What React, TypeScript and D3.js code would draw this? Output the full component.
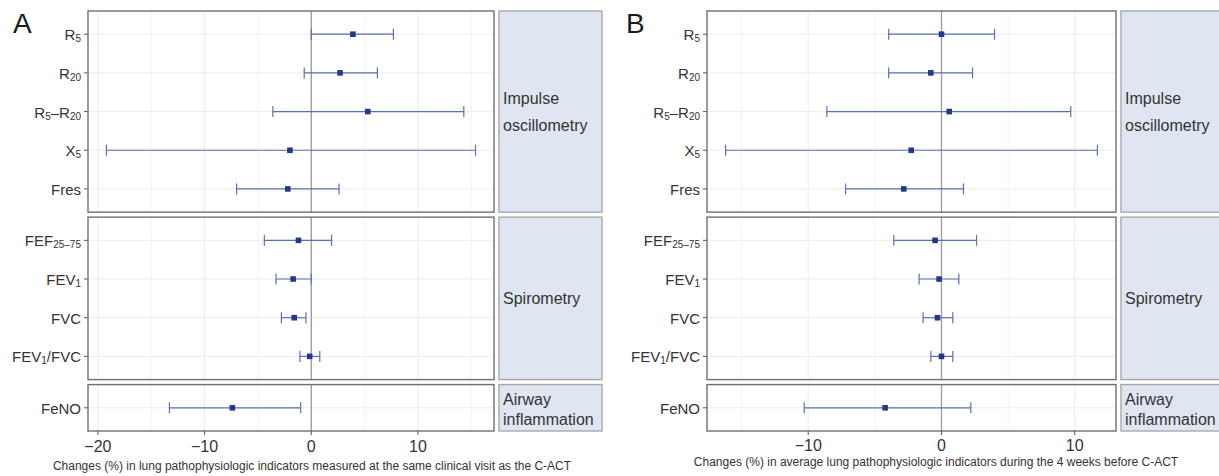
import React from "react";
import * as d3 from "d3";

// ---------- data ----------
const indicators = ["R5", "R20", "R5–R20", "X5", "Fres", "FEF25–75", "FEV1", "FVC", "FEV1/FVC", "FeNO"];
const groupNames = ["Impulse oscillometry", "Spirometry", "Airway inflammation"];
const groupOf = [0, 0, 0, 0, 0, 1, 1, 1, 1, 2];
const stripLines = [["Impulse", "oscillometry"], ["Spirometry"], ["Airway", "inflammation"]];

// Panel A: same clinical visit
const estA = [3.9, 2.7, 5.3, -2.0, -2.2, -1.2, -1.7, -1.6, -0.15, -7.4];
const lowA = [0.0, -0.66, -3.6, -19.2, -7.0, -4.4, -3.3, -2.8, -1.06, -13.3];
const highA = [7.7, 6.2, 14.3, 15.4, 2.6, 1.9, 0.0, -0.5, 0.8, -1.0];

// Panel B: average during the 4 weeks before
const estB = [0.0, -0.8, 0.58, -2.27, -2.83, -0.48, -0.18, -0.3, 0.0, -4.23];
const lowB = [-3.96, -3.96, -8.6, -16.2, -7.2, -3.58, -1.68, -1.38, -0.8, -10.3];
const highB = [3.98, 2.33, 9.7, 11.7, 1.65, 2.63, 1.3, 0.85, 0.85, 2.2];

const ticksA = [-20, -10, 0, 10];
const minorA = [-15, -5, 5, 15];
const ticksB = [-10, 0, 10];
const minorB = [-15, -5, 5];

const titleA = "Changes (%) in lung pathophysiologic indicators measured at the same clinical visit as the C-ACT";
const titleB = "Changes (%) in average lung pathophysiologic indicators during the 4 weeks before C-ACT";

// ---------- style ----------
const FONT = "'Liberation Sans', Arial, Helvetica, sans-serif";
const TXT = "#333";
const BAR = "#5b6fb3";
const PT = "#1f3a88";
const STRIP_FILL = "#dfe6f2";

const TOP = 11;
const BOTTOM = 431;
const GAP = 5;

function Label({ x, y, text }: { x: number; y: number; text: string }) {
  const parts = text.split(/(\d+(?:–\d+)?)/).filter((_, i, a) => !(i === a.length - 1 && a[i] === ""));
  return (
    <text x={x} y={y} textAnchor="end" fontFamily={FONT} fontSize={15} fill={TXT} dominantBaseline="central">
      {parts.map((p, i) =>
        i % 2 === 1 ? (
          <tspan key={i} fontSize={10} dy={4}>{p}</tspan>
        ) : (
          <tspan key={i} dy={i > 0 ? -4 : 0}>{p}</tspan>
        )
      )}
    </text>
  );
}

function Panel(props: {
  letter: string; letterX: number;
  left: number; right: number; stripW: number;
  est: number[]; low: number[]; high: number[];
  ticks: number[]; minor: number[];
  title: string; titleX: number; titleY: number; tickY: number;
}) {
  const { left, right, est, low, high } = props;
  const lo = d3.min(low) as number;
  const hi = d3.max(high) as number;
  const pad = (hi - lo) * 0.05;
  const x = d3.scaleLinear().domain([lo - pad, hi + pad]).range([left, right]);

  const counts = groupNames.map((_, g) => groupOf.filter((v) => v === g).length);
  const units = counts.map((n) => n - 1 + 1.2);
  const unit = (BOTTOM - TOP - GAP * (groupNames.length - 1)) / d3.sum(units);
  let cursor = TOP;
  const facets = groupNames.map((name, g) => {
    const h = units[g] * unit;
    const f = { name, g, y0: cursor, y1: cursor + h };
    cursor += h + GAP;
    return f;
  });

  const stripX = right + 5;

  return (
    <g>
      <text x={props.letterX} y={33} fontFamily={FONT} fontSize={28} fill="#1a1a1a">{props.letter}</text>
      {facets.map((f) => {
        const items = indicators.filter((_, i) => groupOf[i] === f.g);
        const y = d3.scalePoint<string>().domain(items).range([f.y0, f.y1]).padding(0.6);
        const lines = stripLines[f.g];
        const cy = (f.y0 + f.y1) / 2;
        const lh = f.g === 0 ? 27 : 20;
        return (
          <g key={f.name}>
            <rect x={left} y={f.y0} width={right - left} height={f.y1 - f.y0} fill="#fff" />
            {props.minor.map((t) => (
              <line key={"m" + t} x1={x(t)} x2={x(t)} y1={f.y0} y2={f.y1} stroke="#f0f0f0" strokeWidth={0.8} />
            ))}
            {props.ticks.map((t) => (
              <line key={"t" + t} x1={x(t)} x2={x(t)} y1={f.y0} y2={f.y1} stroke="#ebebeb" strokeWidth={1} />
            ))}
            {items.map((it) => (
              <line key={"h" + it} x1={left} x2={right} y1={y(it)} y2={y(it)} stroke="#ececec" strokeWidth={1} />
            ))}
            <line x1={x(0)} x2={x(0)} y1={f.y0} y2={f.y1} stroke="#9a9a9a" strokeWidth={1.3} />
            {items.map((it) => {
              const i = indicators.indexOf(it);
              const yy = y(it) as number;
              return (
                <g key={"d" + it}>
                  <line x1={x(low[i])} x2={x(high[i])} y1={yy} y2={yy} stroke={BAR} strokeWidth={1.2} />
                  <line x1={x(low[i])} x2={x(low[i])} y1={yy - 5.5} y2={yy + 5.5} stroke={BAR} strokeWidth={1.2} />
                  <line x1={x(high[i])} x2={x(high[i])} y1={yy - 5.5} y2={yy + 5.5} stroke={BAR} strokeWidth={1.2} />
                  <rect x={x(est[i]) - 2.8} y={yy - 2.8} width={5.6} height={5.6} fill={PT} />
                  <line x1={left - 4} x2={left} y1={yy} y2={yy} stroke="#555" strokeWidth={1} />
                  <Label x={left - 7} y={yy} text={it} />
                </g>
              );
            })}
            <rect x={left} y={f.y0} width={right - left} height={f.y1 - f.y0} fill="none" stroke="#6f6f6f" strokeWidth={1.4} />
            <rect x={stripX} y={f.y0} width={props.stripW} height={f.y1 - f.y0} fill={STRIP_FILL} stroke="#a8a8a8" strokeWidth={1.4} />
            {lines.map((ln, k) => (
              <text key={ln} x={stripX + 4} y={cy + (k - (lines.length - 1) / 2) * lh + (f.g === 2 ? 1.5 : 0)}
                dominantBaseline="central" fontFamily={FONT} fontSize={16} fill={TXT}>{ln}</text>
            ))}
          </g>
        );
      })}
      {props.ticks.map((t) => (
        <g key={"xt" + t}>
          <line x1={x(t)} x2={x(t)} y1={BOTTOM} y2={BOTTOM + 4} stroke="#555" strokeWidth={1} />
          <text x={x(t)} y={props.tickY} textAnchor="middle" fontFamily={FONT} fontSize={16} fill={TXT}>
            {t < 0 ? "−" + Math.abs(t) : String(t)}
          </text>
        </g>
      ))}
      <text x={props.titleX} y={props.titleY} textAnchor="middle" fontFamily={FONT} fontSize={12} fill={TXT}>{props.title}</text>
    </g>
  );
}

export default function App() {
  return (
    <svg width={1219} height={476} style={{ position: "absolute", left: 0, top: 0, background: "#fff" }}>
      <rect width={1219} height={476} fill="#fff" />
      <Panel letter="A" letterX={13} left={88} right={494} stripW={103}
        est={estA} low={lowA} high={highA} ticks={ticksA} minor={minorA}
        title={titleA} titleX={312} titleY={470} tickY={452} />
      <Panel letter="B" letterX={626} left={707} right={1116} stripW={110}
        est={estB} low={lowB} high={highB} ticks={ticksB} minor={minorB}
        title={titleB} titleX={936} titleY={466} tickY={451} />
    </svg>
  );
}
